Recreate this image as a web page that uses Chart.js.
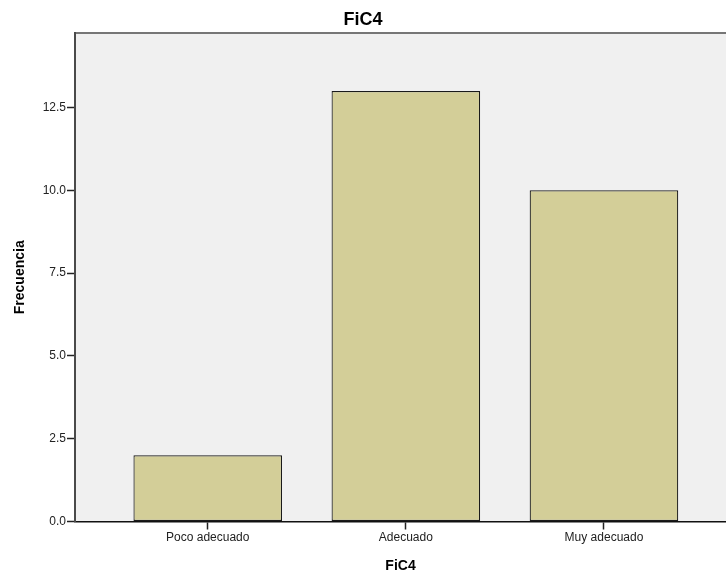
<!DOCTYPE html>
<html>
<head>
<meta charset="utf-8">
<script src="https://cdn.jsdelivr.net/npm/chart.js@4.4.0/dist/chart.umd.min.js"></script>
<style>
  html, body { margin: 0; padding: 0; background: #fff; overflow: hidden; }
</style>
</head>
<body>
<canvas id="bar-chart" width="726" height="578"></canvas>
<script>
const categories = ['Poco adecuado', 'Adecuado', 'Muy adecuado'];
const frecuencia = [2, 13, 10];
const yTicks = [0, 2.5, 5, 7.5, 10, 12.5];

const fontFamily = '"Liberation Sans", Arial, sans-serif';

// grey plot background + top frame line, like SPSS
const plotBackground = {
  id: 'plotBackground',
  beforeDraw(chart) {
    const { ctx, chartArea: a } = chart;
    ctx.save();
    ctx.fillStyle = '#f0f0f0';
    ctx.fillRect(a.left, a.top, a.right - a.left, a.bottom - a.top);
    ctx.strokeStyle = '#767676';
    ctx.lineWidth = 2;
    ctx.beginPath();
    ctx.moveTo(a.left, a.top);
    ctx.lineTo(a.right, a.top);
    ctx.stroke();
    ctx.restore();
  }
};

new Chart(document.getElementById('bar-chart'), {
  type: 'bar',
  data: {
    datasets: [{
      label: 'Frecuencia',
      data: frecuencia.map((v, i) => ({ x: i, y: v })),
      backgroundColor: '#d3ce98',
      borderColor: '#1a1a1a',
      borderWidth: 1.2,
      borderSkipped: false,
      barPercentage: 0.75,
      categoryPercentage: 1
    }]
  },
  options: {
    responsive: false,
    animation: false,
    layout: { padding: 0 },
    plugins: {
      legend: { display: false },
      tooltip: { enabled: false },
      title: {
        display: true,
        text: 'FiC4',
        color: '#000',
        font: { family: fontFamily, size: 18, weight: 'bold', lineHeight: 1.2 },
        padding: { top: 9, bottom: 2.4 }
      }
    },
    scales: {
      x: {
        type: 'linear',
        offset: false,
        min: -0.67,
        max: 2.616,
        afterFit(scale) { scale.height = 56.5; },
        afterBuildTicks(scale) {
          scale.ticks = categories.map((c, i) => ({ value: i }));
        },
        ticks: {
          callback: (v) => categories[v],
          color: '#222',
          font: { family: fontFamily, size: 12 },
          padding: 1,
          maxRotation: 0,
          autoSkip: false
        },
        grid: {
          display: true,
          offset: false,
          drawOnChartArea: false,
          drawTicks: true,
          tickLength: 8,
          tickColor: '#222',
          tickWidth: 1.5
        },
        border: { display: true, color: '#111', width: 1.5 },
        title: {
          display: true,
          text: 'FiC4',
          color: '#000',
          font: { family: fontFamily, size: 14, weight: 'bold' },
          padding: { top: 0, bottom: 3 }
        }
      },
      y: {
        min: 0,
        max: 14.75,
        afterFit(scale) { scale.width = 75; },
        afterBuildTicks(scale) {
          scale.ticks = yTicks.map(v => ({ value: v }));
        },
        ticks: {
          callback: (v) => v.toFixed(1),
          color: '#222',
          font: { family: fontFamily, size: 12 },
          padding: 1
        },
        grid: {
          display: true,
          drawOnChartArea: false,
          drawTicks: true,
          tickLength: 8,
          tickColor: '#222',
          tickWidth: 1.5
        },
        border: { display: true, color: '#4a4a4a', width: 2 },
        title: {
          display: true,
          text: 'Frecuencia',
          color: '#000',
          font: { family: fontFamily, size: 14, weight: 'bold' },
          padding: { top: 12, bottom: 0 }
        }
      }
    }
  },
  plugins: [plotBackground]
});
</script>
</body>
</html>
